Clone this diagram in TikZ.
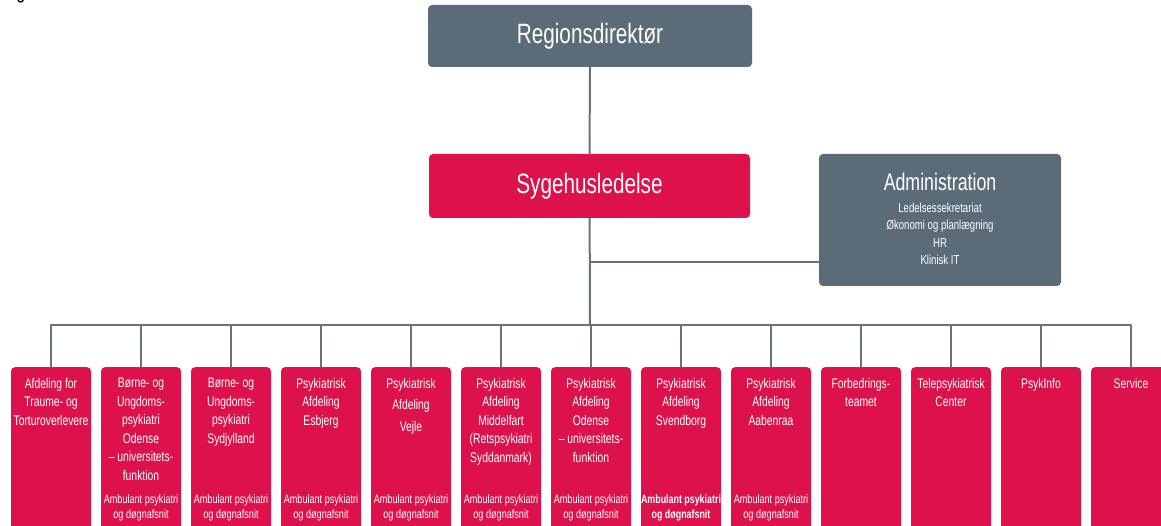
\documentclass[tikz,border=0pt]{standalone}
\usepackage{fontspec}
\setmainfont[FakeStretch=0.74]{Liberation Sans}
\usetikzlibrary{positioning}
\definecolor{slate}{RGB}{91,108,121}
\definecolor{crimson}{RGB}{221,18,76}
\definecolor{wire}{RGB}{105,114,122}

\tikzset{
  graybox/.style={fill=slate,rounded corners=4pt,text=white,inner sep=0pt},
  redbox/.style={fill=crimson,rounded corners=4pt,text=white,inner sep=0pt},
  unitbox/.style={redbox,minimum width=80pt,minimum height=185pt,anchor=north},
  unittext/.style={text=white,align=center,inner sep=0pt,anchor=north,
    font=\fontsize{14}{18.5}\selectfont},
  careline/.style={text=white,align=center,inner sep=0pt,
    font=\fontsize{12.3}{15}\selectfont},
  wireline/.style={draw=wire,line width=2pt}
}

\begin{document}
\begin{tikzpicture}[line cap=round,line join=round,x=1pt,y=-1pt]
\useasboundingbox (0,0) rectangle (1161,526);
% cut-off letter at the top edge
\node[anchor=base,inner sep=0pt,font=\fontsize{22}{24}\selectfont] (gcut) at (21,-1) {g};
% top of the chart
\node[graybox,minimum width=324pt,minimum height=62pt,
  font=\fontsize{28}{32}\selectfont] (rd) at (590,36) {Regionsdirektør};
\node[redbox,minimum width=321pt,minimum height=64pt,
  font=\fontsize{28}{32}\selectfont] (sl) at (589.5,186) {Sygehusledelse};
\node[graybox,minimum width=242pt,minimum height=132pt] (adm) at (940,220) {};
\node[text=white,inner sep=0pt,font=\fontsize{24}{28}\selectfont] (admtitle) at (940,182) {Administration};
\node[text=white,inner sep=0pt,align=center,anchor=north,
  font=\fontsize{13}{17.3}\selectfont] (admlist) at (940,203)
  {Ledelsessekretariat\\Økonomi og planlægning\\HR\\Klinisk IT};
\coordinate (aj) at (590,262);
\coordinate (bus) at (590,325);
\draw[wireline] (rd) -- (sl);
\draw[wireline] (sl) -- (bus);
\draw[wireline] (aj) -- (aj -| adm.west);
% the units
\foreach \i/\txt in {
  1/{Afdeling for\\Traume- og\\Torturoverlevere},
  2/{Børne- og\\Ungdoms-\\psykiatri\\Odense\\– universitets-\\funktion},
  3/{Børne- og\\Ungdoms-\\psykiatri\\Sydjylland},
  4/{Psykiatrisk\\Afdeling\\Esbjerg},
  5/{Psykiatrisk\\[3pt]Afdeling\\[3pt]Vejle},
  6/{Psykiatrisk\\Afdeling\\Middelfart\\(Retspsykiatri\\Syddanmark)},
  7/{Psykiatrisk\\Afdeling\\Odense\\– universitets-\\funktion},
  8/{Psykiatrisk\\Afdeling\\Svendborg},
  9/{Psykiatrisk\\Afdeling\\Aabenraa},
  10/{Forbedrings-\\teamet},
  11/{Telepsykiatrisk\\Center},
  12/{PsykInfo},
  13/{Service}}{
  \node[unitbox] (u\i) at ({51+(\i-1)*90},367) {};
  \node[unittext] (u\i t) at ({51+(\i-1)*90},378) {\txt};
  \draw[wireline] (u\i.north) |- (bus);
}
\foreach \i in {2,...,7,9}
  \node[careline] (c\i) at ({51+(\i-1)*90},507.5) {Ambulant psykiatri\\og døgnafsnit};
\node[careline,font=\bfseries\fontsize{12}{15}\selectfont] (c8) at (681,507.5) {Ambulant psykiatri\\og døgnafsnit};
\end{tikzpicture}
\end{document}
